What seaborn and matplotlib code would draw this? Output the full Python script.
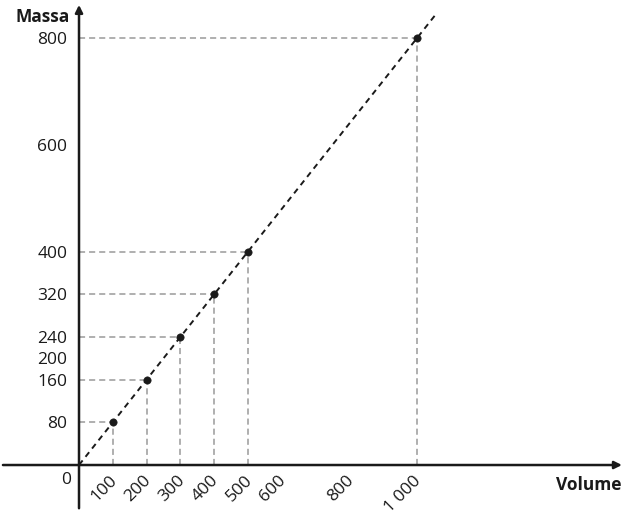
import matplotlib
matplotlib.use("Agg")
import matplotlib.pyplot as plt
import matplotlib.transforms as mtransforms
import seaborn as sns

# measured points (volume, mass)
volumes = [100, 200, 300, 400, 500, 1000]
masses = [80, 160, 240, 320, 400, 800]

x_ticks = [100, 200, 300, 400, 500, 600, 800, 1000]
x_tick_labels = ["100", "200", "300", "400", "500", "600", "800", "1 000"]
y_ticks = [80, 160, 200, 240, 320, 400, 600, 800]
y_tick_labels = ["80", "160", "200", "240", "320", "400", "600", "800"]

line_end_volume = 1055

sns.set_theme(style="white")
plt.rcParams['font.family'] = ['Open Sans', 'DejaVu Sans']

ink = '#1a1a1a'
guide = '#9a9a9a'

fig = plt.figure(figsize=(6.26, 5.13), dpi=100)
ax = fig.add_axes([0, 0, 1, 1])
ax.set_xlim(-233.7, 1618)
ax.set_ylim(-89.9, 871.2)

# guide lines to the axes
ax.hlines(masses, 0, volumes, colors=guide, linestyles=(0, (4, 2.6)), lw=1.1)
ax.vlines(volumes, 0, masses, colors=guide, linestyles=(0, (4, 2.6)), lw=1.1)

# proportional line through the origin
rho = masses[-1] / volumes[-1]
sns.lineplot(x=[0, line_end_volume], y=[0, rho * line_end_volume], ax=ax,
             color=ink, lw=1.4, linestyle=(0, (3, 2.4)))
sns.scatterplot(x=volumes, y=masses, ax=ax, color=ink, s=28, edgecolor=ink, zorder=5)

# axes with arrows
for sp in ax.spines.values():
    sp.set_color('none')
ax.spines['left'].set_position(('data', 0))
ax.spines['bottom'].set_position(('data', 0))
ax.annotate('', xy=(1606, 0), xytext=(-225, 0),
            arrowprops=dict(arrowstyle='-|>', color=ink, lw=1.8, mutation_scale=11,
                            shrinkA=0, shrinkB=0))
ax.annotate('', xy=(0, 862), xytext=(0, -81),
            arrowprops=dict(arrowstyle='-|>', color=ink, lw=1.8, mutation_scale=11,
                            shrinkA=0, shrinkB=0))

ax.set_xticks(x_ticks)
ax.set_xticklabels(x_tick_labels, rotation=45, ha='right', va='center',
                   rotation_mode='anchor')
ax.set_yticks(y_ticks)
ax.set_yticklabels(y_tick_labels)
ax.tick_params(axis='both', direction='inout', length=7, width=1.5, color=ink,
               labelsize=12.5, labelcolor=ink)
ax.tick_params(axis='x', pad=6)
ax.tick_params(axis='y', pad=5)
offset = mtransforms.ScaledTranslation(2 / 100, 0, fig.dpi_scale_trans)
for lbl in ax.get_xticklabels():
    lbl.set_transform(lbl.get_transform() + offset)

ax.text(-38, -28, "0", ha='center', va='center', fontsize=12.5, color=ink)
ax.text(-27, 839, "Massa", ha='right', va='center', fontsize=12.5,
        fontweight='bold', color=ink)
ax.text(1606, -37.5, "Volume", ha='right', va='center', fontsize=12.5,
        fontweight='bold', color=ink)
ax.grid(False)

fig.savefig("out.png", dpi=100)
